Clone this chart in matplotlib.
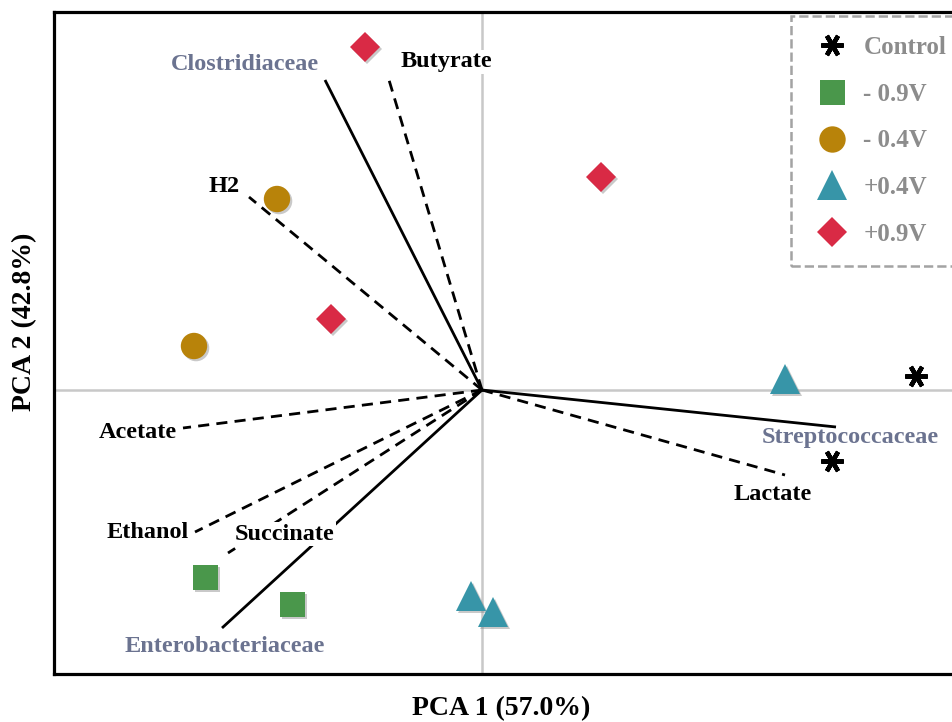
import matplotlib
matplotlib.use("Agg")
import matplotlib.pyplot as plt
import matplotlib.patheffects as pe
from matplotlib.lines import Line2D

plt.rcParams['font.family'] = ['Liberation Serif', 'DejaVu Serif']
plt.rcParams['font.weight'] = 'bold'

# sample scores on PC1 / PC2
groups = ['Control', '- 0.9V', '- 0.4V', '+0.4V', '+0.9V']
pc1 = {
    'Control': [4.34, 3.50],
    '- 0.9V': [-2.77, -1.90],
    '- 0.4V': [-2.05, -2.88],
    '+0.4V': [3.03, -0.11, 0.11],
    '+0.9V': [-1.17, 1.19, -1.51],
}
pc2 = {
    'Control': [0.14, -0.71],
    '- 0.9V': [-1.87, -2.14],
    '- 0.4V': [1.91, 0.44],
    '+0.4V': [0.11, -2.06, -2.22],
    '+0.9V': [3.43, 2.13, 0.71],
}

# loadings (families solid, metabolites dashed)
variables = ['Clostridiaceae', 'Butyrate', 'H2', 'Acetate', 'Ethanol',
             'Succinate', 'Enterobacteriaceae', 'Streptococcaceae', 'Lactate']
load1 = [-1.57, -0.93, -2.33, -2.99, -2.87, -2.54, -2.60, 3.54, 3.03]
load2 = [3.10, 3.10, 1.93, -0.38, -1.42, -1.63, -2.38, -0.37, -0.85]
is_family = [True, False, False, False, False, False, True, True, False]
label_x = [-2.37, -0.36, -2.58, -3.44, -3.34, -1.97, -2.57, 3.68, 2.91]
label_y = [3.26, 3.28, 2.03, -0.42, -1.42, -1.44, -2.57, -0.47, -1.04]

styles = {
    'Control': dict(marker=(6, 2, 90), color='black', ms=16, mew=3.2),
    '- 0.9V': dict(marker='s', color='#4a974b', ms=18),
    '- 0.4V': dict(marker='o', color='#b8830a', ms=19),
    '+0.4V': dict(marker='^', color='#3795a8', ms=22),
    '+0.9V': dict(marker='D', color='#d92a45', ms=15),
}
shadow = [pe.SimplePatchShadow(offset=(1.5, -1.5), shadow_rgbFace='#888888', alpha=0.45),
          pe.Normal()]

fig = plt.figure(figsize=(9.52, 7.22), dpi=100)
ax = fig.add_axes([54 / 952, 48 / 722, 911 / 952, 662 / 722])
ax.set_xlim(-4.28, 4.83)
ax.set_ylim(-2.84, 3.78)

ax.axhline(0, color='#c8c8c8', lw=1.8, zorder=1)
ax.axvline(0, color='#c8c8c8', lw=1.8, zorder=1)

for i, name in enumerate(variables):
    if is_family[i]:
        ax.plot([0, load1[i]], [0, load2[i]], color='black', lw=2, zorder=2,
                solid_capstyle='butt')
        ax.text(label_x[i], label_y[i], name, color='#6b7390', fontsize=17.5,
                ha='center', va='center', zorder=3)
    else:
        ax.plot([0, load1[i]], [0, load2[i]], color='black', lw=2, zorder=2,
                dashes=(4, 2.6))
        ax.text(label_x[i], label_y[i], name, color='black', fontsize=17.5,
                ha='center', va='center', zorder=3,
                bbox=dict(facecolor='white', edgecolor='none', pad=1))

handles = []
for g in groups:
    st = styles[g]
    ln, = ax.plot(pc1[g], pc2[g], ls='none', marker=st['marker'], ms=st['ms'],
                  color=st['color'], mec=st['color'], mew=st.get('mew', 0),
                  zorder=4, label=g)
    if g != 'Control':
        ln.set_path_effects(shadow)
    handles.append(Line2D([], [], ls='none', marker=st['marker'],
                          ms=st['ms'], color=st['color'],
                          mec=st['color'], mew=st.get('mew', 0)))

leg = ax.legend(handles, groups, loc='upper left', bbox_to_anchor=(0.809, 0.994),
                fontsize=18, frameon=True, fancybox=False, labelspacing=0.95,
                handlelength=1.7, handletextpad=0.4, borderpad=0.8,
                borderaxespad=0, labelcolor='#8c8c8c')
frame = leg.get_frame()
frame.set_edgecolor('#8c8c8c')
frame.set_linestyle('--')
frame.set_linewidth(1.8)

for s in ax.spines.values():
    s.set_linewidth(2.3)
ax.set_xticks([])
ax.set_yticks([])
ax.set_xlabel('PCA 1 (57.0%)', fontsize=20, fontweight='bold')
ax.set_ylabel('PCA 2 (42.8%)', fontsize=20, fontweight='bold')
ax.xaxis.set_label_coords(0.491, -0.033)
ax.yaxis.set_label_coords(-0.018, 0.532)

fig.savefig('out.png', dpi=100)
